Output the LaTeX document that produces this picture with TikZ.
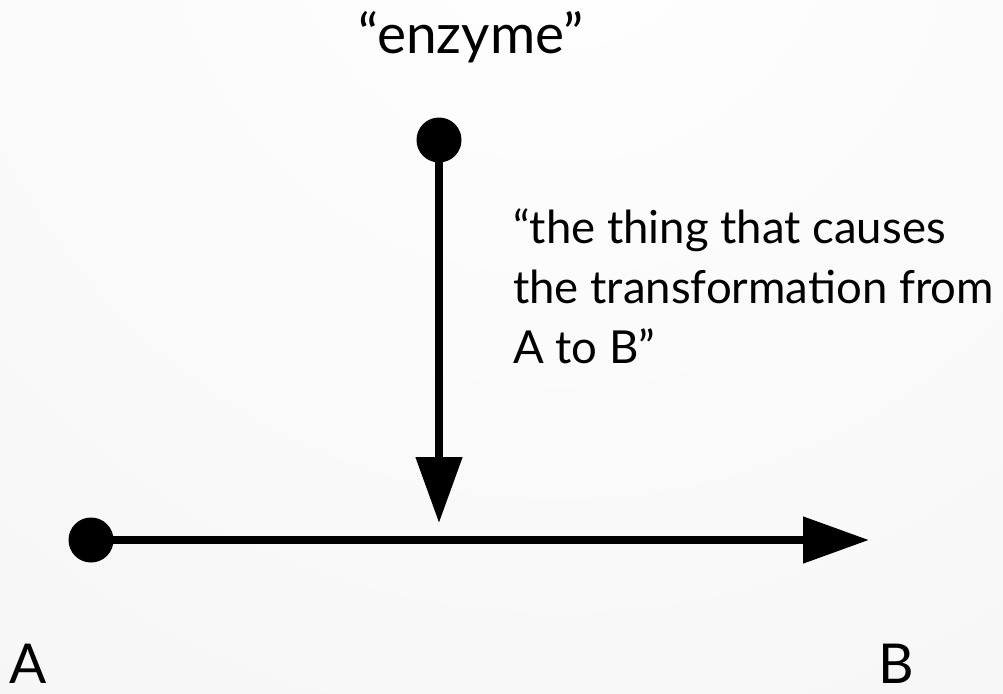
\documentclass[tikz,border=0pt]{standalone}
\usepackage{fontspec}
\setmainfont{Lato}
\usetikzlibrary{arrows.meta}
\tikzset{
  wire/.style={line width=8pt, -{Triangle[length=66pt,width=45pt]}},
  dot/.style={circle, fill=black, inner sep=0pt, minimum size=45pt},
  biglabel/.style={font=\fontsize{55pt}{60pt}\selectfont, inner sep=0pt},
  notelabel/.style={font=\fontsize{45.5pt}{60pt}\selectfont, inner sep=0pt, align=left},
}
\begin{document}
\begin{tikzpicture}[x=1pt, y=-1pt]
  % canvas with a faint radial wash
  \useasboundingbox (0,0) rectangle (1003,693);
  \begin{scope}
    \clip (0,0) rectangle (1003,693);
    \shade[inner color=white, outer color=black!4] (560,-120) circle (1150);
  \end{scope}

  % end points
  \node[dot] (enz) at (439,140) {};
  \node[dot] (start) at (91,540) {};
  \coordinate (hit) at (439,523);
  \coordinate (tip) at (869,540);

  % connectors
  \draw[wire] (enz.center) -- (hit);
  \draw[wire] (start.center) -- (tip);

  % labels (a multi-line node sits on the baseline of its last line)
  \node[biglabel, anchor=base] (enzlabel) at (471,53) {“enzyme”};
  \node[notelabel, anchor=base west] (note) at (513,363)
    {“the thing that causes\\the transformation from\\A to B”};
  \node[biglabel, text depth=0pt, anchor=base] (alabel) at (28,683) {A};
  \node[biglabel, text depth=0pt, anchor=base] (blabel) at (896,683) {B};
\end{tikzpicture}
\end{document}
